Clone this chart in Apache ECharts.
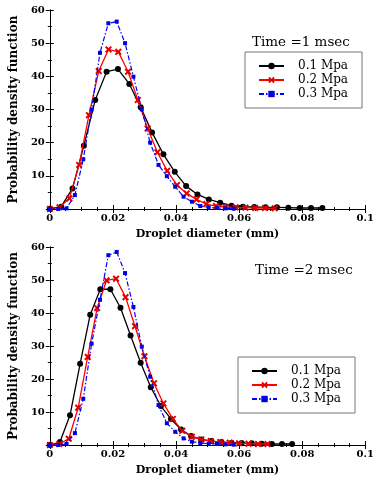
<!DOCTYPE html>
<html>
<head>
<meta charset="utf-8">
<script src="https://cdn.jsdelivr.net/npm/echarts@6/dist/echarts.min.js"></script>
<style>
  html, body { margin: 0; padding: 0; background: #fff; }
  #chart { width: 377px; height: 480px; }
</style>
</head>
<body>
<div id="chart"></div>
<script>
// ---- data ----
var seriesNames = ['0.1 Mpa', '0.2 Mpa', '0.3 Mpa'];
var xTicks = [0, 0.02, 0.04, 0.06, 0.08, 0.1];
var yTicks = [0, 10, 20, 30, 40, 50, 60];

// Time = 1 msec
var t1BlackX = [0, 0.0036, 0.0072, 0.0108, 0.0144, 0.018, 0.0216, 0.0252, 0.0288, 0.0324, 0.036, 0.0396, 0.0432,
  0.0468, 0.0504, 0.054, 0.0576, 0.0612, 0.0648, 0.0684, 0.072, 0.0756, 0.0792, 0.0828, 0.0864];
var t1BlackY = [0.1, 0.7, 6.2, 19.1, 32.9, 41.4, 42.2, 37.7, 30.7, 23.1, 16.5, 11.2, 6.9,
  4.4, 2.9, 1.9, 1.0, 0.7, 0.6, 0.5, 0.5, 0.4, 0.3, 0.3, 0.3];
var t1RedX = [0, 0.0031, 0.0062, 0.0093, 0.0124, 0.0155, 0.0186, 0.0217, 0.0248, 0.0279, 0.031, 0.0341, 0.0372,
  0.0403, 0.0434, 0.0465, 0.0496, 0.0527, 0.0558, 0.0589, 0.062, 0.0651, 0.0682, 0.0713];
var t1RedY = [0, 0.5, 3.2, 13.3, 28.3, 41.6, 48.1, 47.4, 41.4, 32.9, 24.3, 17.1, 11.5,
  7.2, 4.7, 2.9, 1.5, 0.9, 0.6, 0.5, 0.4, 0.3, 0.3, 0.2];
var t1BlueX = [0, 0.00265, 0.0053, 0.00795, 0.0106, 0.01325, 0.0159, 0.01855, 0.0212, 0.02385, 0.0265, 0.02915,
  0.0318, 0.03445, 0.0371, 0.03975, 0.0424, 0.04505, 0.0477, 0.05035, 0.053, 0.05565, 0.0583];
var t1BlueY = [0, 0, 0.2, 4.2, 15, 30, 47.1, 56, 56.5, 50, 39.9, 30,
  20, 13.3, 9.9, 6.7, 3.7, 2.2, 0.9, 0.5, 0.3, 0.2, 0.1];

// Time = 2 msec
var t2BlackX = [0, 0.0032, 0.0064, 0.0096, 0.0128, 0.016, 0.0192, 0.0224, 0.0256, 0.0288, 0.032, 0.0352, 0.0384,
  0.0416, 0.0448, 0.048, 0.0512, 0.0544, 0.0576, 0.0608, 0.064, 0.0672, 0.0704, 0.0736, 0.0768];
var t2BlackY = [0, 0.9, 9.0, 24.6, 39.5, 47.2, 47.2, 41.6, 33.2, 24.9, 17.5, 11.8, 7.9,
  4.7, 2.7, 1.7, 1.2, 0.9, 0.7, 0.6, 0.5, 0.4, 0.3, 0.3, 0.3];
var t2RedX = [0, 0.003, 0.006, 0.009, 0.012, 0.015, 0.018, 0.021, 0.024, 0.027, 0.03, 0.033, 0.036,
  0.039, 0.042, 0.045, 0.048, 0.051, 0.054, 0.057, 0.06, 0.063, 0.066, 0.069];
var t2RedY = [0, 0.3, 1.9, 11.3, 26.7, 41.5, 49.9, 50.4, 44.8, 36, 26.9, 18.7, 12.6,
  7.9, 4.3, 2.5, 1.7, 1.2, 0.9, 0.7, 0.5, 0.4, 0.3, 0.3];
var t2BlueX = [0, 0.00265, 0.0053, 0.00795, 0.0106, 0.01325, 0.0159, 0.01855, 0.0212, 0.02385, 0.0265, 0.02915,
  0.0318, 0.03445, 0.0371, 0.03975, 0.0424, 0.04505, 0.0477, 0.05035, 0.053, 0.05565, 0.0583];
var t2BlueY = [0, 0, 0.3, 3.6, 14, 30.7, 44, 57.5, 58.5, 52.1, 41.8, 29.8,
  20.7, 12.1, 6.6, 4, 2, 1, 0.6, 0.4, 0.3, 0.2, 0.1];

var SERIF = 'DejaVu Serif';
var xShape = 'path://M2,0L5,3L8,0L10,2L7,5L10,8L8,10L5,7L2,10L0,8L3,5L0,2Z';

function pairs(xs, ys) {
  return xs.map(function (x, i) { return [x, ys[i]]; });
}
function fmtX(v) {
  return v === 0 ? '0' : String(+v.toFixed(2));
}

function xAxes(gi) {
  var base = {
    type: 'value', gridIndex: gi, min: xTicks[0], max: xTicks[xTicks.length - 1],
    interval: xTicks[1] - xTicks[0],
    axisLine: { lineStyle: { color: '#000', width: 1 } },
    axisTick: { inside: true, length: 4, lineStyle: { color: '#000' } },
    minorTick: { show: true, splitNumber: 4, length: 2, lineStyle: { color: '#000' } },
    splitLine: { show: false }
  };
  var bottom = Object.assign({}, base, {
    position: 'bottom',
    name: 'Droplet diameter (mm)', nameLocation: 'middle', nameGap: 20,
    nameTextStyle: { fontFamily: SERIF, fontSize: 11, fontWeight: 'bold', color: '#000' },
    axisLabel: { margin: 4, fontFamily: SERIF, fontSize: 10, fontWeight: 'bold', color: '#000', formatter: fmtX }
  });
  var top = Object.assign({}, base, { position: 'top', axisLabel: { show: false } });
  return [bottom, top];
}
function yAxes(gi) {
  var base = {
    type: 'value', gridIndex: gi, min: yTicks[0], max: yTicks[yTicks.length - 1],
    interval: yTicks[1] - yTicks[0],
    axisLine: { lineStyle: { color: '#000', width: 1 } },
    axisTick: { inside: true, length: 4, lineStyle: { color: '#000' } },
    minorTick: { show: true, splitNumber: 2, length: 2, lineStyle: { color: '#000' } },
    splitLine: { show: false }
  };
  var left = Object.assign({}, base, {
    position: 'left',
    name: 'Probability density function', nameLocation: 'middle', nameGap: 28,
    nameTextStyle: { fontFamily: SERIF, fontSize: 12, fontWeight: 'bold', color: '#000' },
    axisLabel: { margin: 5, fontFamily: SERIF, fontSize: 10, fontWeight: 'bold', color: '#000',
      formatter: function (v) { return v === 0 ? '' : String(v); } }
  });
  var right = Object.assign({}, base, { position: 'right', axisLabel: { show: false } });
  return [left, right];
}

function makeSeries(gi, bx, by, rx, ry, ux, uy) {
  var xi = gi * 2, yi = gi * 2;
  return [
    { name: seriesNames[0], type: 'line', xAxisIndex: xi, yAxisIndex: yi, data: pairs(bx, by),
      symbol: 'circle', symbolSize: 6, itemStyle: { color: '#000' },
      lineStyle: { color: '#000', width: 1.3 }, animation: false, z: 3 },
    { name: seriesNames[1], type: 'line', xAxisIndex: xi, yAxisIndex: yi, data: pairs(rx, ry),
      symbol: xShape, symbolSize: 7, itemStyle: { color: '#e00000' },
      lineStyle: { color: '#ff0000', width: 1.3 }, animation: false, z: 4 },
    { name: seriesNames[2], type: 'line', xAxisIndex: xi, yAxisIndex: yi, data: pairs(ux, uy),
      symbol: 'rect', symbolSize: 4, itemStyle: { color: '#0000dd' },
      lineStyle: { color: '#0000ff', width: 1.2, type: [5, 2, 1.5, 2] }, animation: false, z: 5 }
  ];
}

function legendAt(left, top) {
  return {
    orient: 'vertical', left: left, top: top, data: seriesNames,
    itemWidth: 25, itemHeight: 8, itemGap: 2,
    padding: [8, 14, 8, 13],
    backgroundColor: '#fff', borderColor: '#777', borderWidth: 1, borderRadius: 0,
    textStyle: { fontFamily: SERIF, fontSize: 12, color: '#000', padding: [0, 0, 0, 9] },
    selectedMode: false
  };
}

var chart = echarts.init(document.getElementById('chart'), null, { renderer: 'canvas' });
chart.setOption({
  animation: false,
  backgroundColor: '#fff',
  grid: [
    { left: 44, top: 10, width: 322, height: 199 },
    { left: 44, top: 247, width: 322, height: 198 }
  ],
  title: [
    { text: 'Time =1 msec', left: 247, top: 30,
      textStyle: { fontFamily: SERIF, fontSize: 13.5, fontWeight: 'normal', color: '#000' } },
    { text: 'Time =2 msec', left: 250, top: 258,
      textStyle: { fontFamily: SERIF, fontSize: 13.5, fontWeight: 'normal', color: '#000' } }
  ],
  legend: [legendAt(245, 52), legendAt(238, 357)],
  xAxis: xAxes(0).concat(xAxes(1)),
  yAxis: yAxes(0).concat(yAxes(1)),
  series: makeSeries(0, t1BlackX, t1BlackY, t1RedX, t1RedY, t1BlueX, t1BlueY)
    .concat(makeSeries(1, t2BlackX, t2BlackY, t2RedX, t2RedY, t2BlueX, t2BlueY))
});
</script>
</body>
</html>
